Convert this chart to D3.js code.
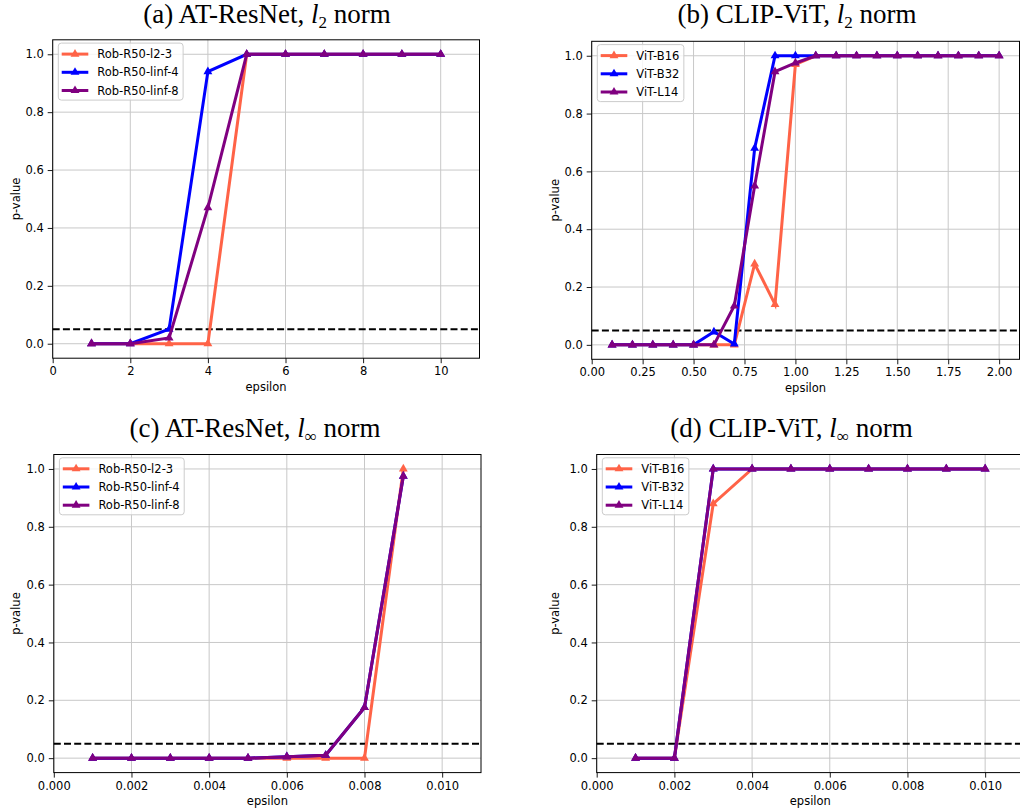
<!DOCTYPE html>
<html>
<head>
<meta charset="utf-8">
<script src="https://cdn.jsdelivr.net/npm/d3@7"></script>
<style>
body{margin:0;background:#fff}
svg{display:block;font-family:"DejaVu Sans",sans-serif}
</style>
</head>
<body>
<svg id="chart" width="1020" height="812"></svg>
<script>
// ---------- data ----------
const resnetLabels = ["Rob-R50-l2-3", "Rob-R50-linf-4", "Rob-R50-linf-8"];
const vitLabels = ["ViT-B16", "ViT-B32", "ViT-L14"];
const seriesColors = ["#ff6347", "#0000ff", "#800080"];

const epsA = [1, 2, 3, 4, 5, 6, 7, 8, 9, 10];
const aL2_3  = [0, 0, 0, 0, 1, 1, 1, 1, 1, 1];
const aLinf4 = [0, 0, 0.05, 0.94, 1, 1, 1, 1, 1, 1];
const aLinf8 = [0, 0, 0.02, 0.47, 1, 1, 1, 1, 1, 1];

const epsB = [0.1, 0.2, 0.3, 0.4, 0.5, 0.6, 0.7, 0.8, 0.9, 1.0, 1.1, 1.2, 1.3, 1.4, 1.5, 1.6, 1.7, 1.8, 1.9, 2.0];
const bB16 = [0, 0, 0, 0, 0, 0, 0, 0.28, 0.14, 0.97, 1, 1, 1, 1, 1, 1, 1, 1, 1, 1];
const bB32 = [0, 0, 0, 0, 0, 0.045, 0.003, 0.68, 1, 1, 1, 1, 1, 1, 1, 1, 1, 1, 1, 1];
const bL14 = [0, 0, 0, 0, 0, 0, 0.135, 0.55, 0.945, 0.975, 1, 1, 1, 1, 1, 1, 1, 1, 1, 1];

const epsC = [0.001, 0.002, 0.003, 0.004, 0.005, 0.006, 0.007, 0.008, 0.009];
const cL2_3  = [0, 0, 0, 0, 0, 0, 0, 0, 1.0];
const cLinf4 = [0, 0, 0, 0, 0, 0.005, 0.01, 0.175, 0.975];
const cLinf8 = [0, 0, 0, 0, 0, 0.005, 0.01, 0.175, 0.975];

const epsD = [0.001, 0.002, 0.003, 0.004, 0.005, 0.006, 0.007, 0.008, 0.009, 0.010];
const dB16 = [0, 0, 0.88, 1, 1, 1, 1, 1, 1, 1];
const dB32 = [0, 0, 1, 1, 1, 1, 1, 1, 1, 1];
const dL14 = [0, 0, 1, 1, 1, 1, 1, 1, 1, 1];

const xTicksA = [0, 2, 4, 6, 8, 10];
const xTicksB = [0, 0.25, 0.5, 0.75, 1.0, 1.25, 1.5, 1.75, 2.0];
const xTicksCD = [0, 0.002, 0.004, 0.006, 0.008, 0.010];
const yTicks = [0, 0.2, 0.4, 0.6, 0.8, 1.0];
const threshold = 0.05;

const titlesPrefix = ["(a) AT-ResNet, ", "(b) CLIP-ViT, ", "(c) AT-ResNet, ", "(d) CLIP-ViT, "];
const titlesSub = ["2", "2", "\u221E", "\u221E"];

// ---------- layout ----------
const panels = [
  {prefix: titlesPrefix[0], sub: titlesSub[0], tcx: 267, tby: 23, l: 52.7, r: 479.5, t: 39.8, b: 358.2,
   xdom: [0, 11], xticks: xTicksA, fmt: d3.format("d"), eps: epsA, ys: [aL2_3, aLinf4, aLinf8], labels: resnetLabels, ylx: 19.5},
  {prefix: titlesPrefix[1], sub: titlesSub[1], tcx: 797, tby: 23, l: 591.7, r: 1019.5, t: 41.3, b: 359.3,
   xdom: [0, 2.1], xticks: xTicksB, fmt: d3.format(".2f"), eps: epsB, ys: [bB16, bB32, bL14], labels: vitLabels, ylx: 558.5},
  {prefix: titlesPrefix[2], sub: titlesSub[2], tcx: 255, tby: 437, l: 53.8, r: 481, t: 454.5, b: 772.6,
   xdom: [0, 0.011], xticks: xTicksCD, fmt: d3.format(".3f"), eps: epsC, ys: [cL2_3, cLinf4, cLinf8], labels: resnetLabels, ylx: 19.5},
  {prefix: titlesPrefix[3], sub: titlesSub[3], tcx: 791.5, tby: 437, l: 596.7, r: 1024, t: 454.5, b: 772.6,
   xdom: [0, 0.011], xticks: xTicksCD, fmt: d3.format(".3f"), eps: epsD, ys: [dB16, dB32, dL14], labels: vitLabels, ylx: 558.5}
];

const svg = d3.select("#chart");
const tri = d3.symbol().type(d3.symbolTriangle).size(34);

panels.forEach((p, pi) => {
  const x = d3.scaleLinear().domain(p.xdom).range([p.l, p.r]);
  const y = d3.scaleLinear().domain([-0.05, 1.05]).range([p.b, p.t]);
  const g = svg.append("g");

  // title
  const tt = g.append("text")
    .attr("x", p.tcx).attr("y", p.tby)
    .attr("text-anchor", "middle")
    .style("font-family", "'Liberation Serif','Times New Roman',serif")
    .style("font-size", "27px").attr("fill", "#000");
  tt.append("tspan").text(p.prefix);
  tt.append("tspan").style("font-style", "italic").text("l");
  tt.append("tspan").attr("dy", 5).style("font-size", "17px").text(p.sub);
  tt.append("tspan").attr("dy", -5).text(" norm");

  // grid
  g.append("g").selectAll("line.v").data(p.xticks).join("line")
    .attr("x1", d => x(d)).attr("x2", d => x(d))
    .attr("y1", p.t).attr("y2", p.b)
    .attr("stroke", "#c8c8c8").attr("stroke-width", 1);
  g.append("g").selectAll("line.h").data(yTicks).join("line")
    .attr("y1", d => y(d)).attr("y2", d => y(d))
    .attr("x1", p.l).attr("x2", p.r)
    .attr("stroke", "#c8c8c8").attr("stroke-width", 1);

  // threshold dashed line
  g.append("line")
    .attr("x1", p.l).attr("x2", p.r)
    .attr("y1", y(threshold)).attr("y2", y(threshold))
    .attr("stroke", "#000").attr("stroke-width", 2)
    .attr("stroke-dasharray", "7,3.2");

  // series
  const line = d3.line().x(d => x(d[0])).y(d => y(d[1]));
  p.ys.forEach((vals, si) => {
    const pts = p.eps.map((e, i) => [e, vals[i]]);
    g.append("path").datum(pts)
      .attr("d", line)
      .attr("fill", "none")
      .attr("stroke", seriesColors[si])
      .attr("stroke-width", 3)
      .attr("stroke-linejoin", "miter");
    g.append("g").selectAll("path").data(pts).join("path")
      .attr("d", tri)
      .attr("transform", d => `translate(${x(d[0])},${y(d[1])})`)
      .attr("fill", seriesColors[si]);
  });

  // axes
  const xAxis = d3.axisBottom(x).tickValues(p.xticks).tickFormat(p.fmt).tickSize(5).tickPadding(4);
  const yAxis = d3.axisLeft(y).tickValues(yTicks).tickFormat(d3.format(".1f")).tickSize(5).tickPadding(4);
  const xa = g.append("g").attr("transform", `translate(0,${p.b})`).call(xAxis);
  const ya = g.append("g").attr("transform", `translate(${p.l},0)`).call(yAxis);
  [xa, ya].forEach(a => {
    a.select(".domain").remove();
    a.selectAll("text").style("font-size", "11.5px").style("font-family", "'DejaVu Sans',sans-serif").attr("fill", "#000");
    a.selectAll(".tick line").attr("stroke", "#000").attr("stroke-width", 0.9);
  });

  // frame
  g.append("rect")
    .attr("x", p.l).attr("y", p.t)
    .attr("width", p.r - p.l).attr("height", p.b - p.t)
    .attr("fill", "none").attr("stroke", "#000").attr("stroke-width", 1);

  // axis labels
  g.append("text")
    .attr("x", (p.l + p.r) / 2).attr("y", p.b + 32.5)
    .attr("text-anchor", "middle").style("font-size", "11.5px").text("epsilon");
  g.append("text")
    .attr("transform", `translate(${p.ylx},${(p.t + p.b) / 2}) rotate(-90)`)
    .attr("text-anchor", "middle").style("font-size", "11.5px").text("p-value");

  // legend
  const lg = g.append("g");
  const bx = p.l + 5.6, by = p.t + 3.3;
  const box = lg.append("rect").attr("x", bx).attr("y", by)
    .attr("rx", 3).attr("ry", 3)
    .attr("fill", "#fff").attr("fill-opacity", 0.8)
    .attr("stroke", "#cccccc").attr("stroke-width", 1);
  let maxW = 0;
  p.labels.forEach((lab, i) => {
    const ey = by + 11 + i * 18.2;
    lg.append("line").attr("x1", bx + 3.4).attr("x2", bx + 30)
      .attr("y1", ey).attr("y2", ey)
      .attr("stroke", seriesColors[i]).attr("stroke-width", 3);
    lg.append("path").attr("d", tri)
      .attr("transform", `translate(${bx + 16.7},${ey})`)
      .attr("fill", seriesColors[i]);
    const t = lg.append("text").attr("x", bx + 39).attr("y", ey).attr("dy", "0.36em")
      .style("font-size", "11.5px").text(lab);
    maxW = Math.max(maxW, t.node().getComputedTextLength());
  });
  box.attr("width", 39 + maxW + 4.5).attr("height", 57);
});
</script>
</body>
</html>
